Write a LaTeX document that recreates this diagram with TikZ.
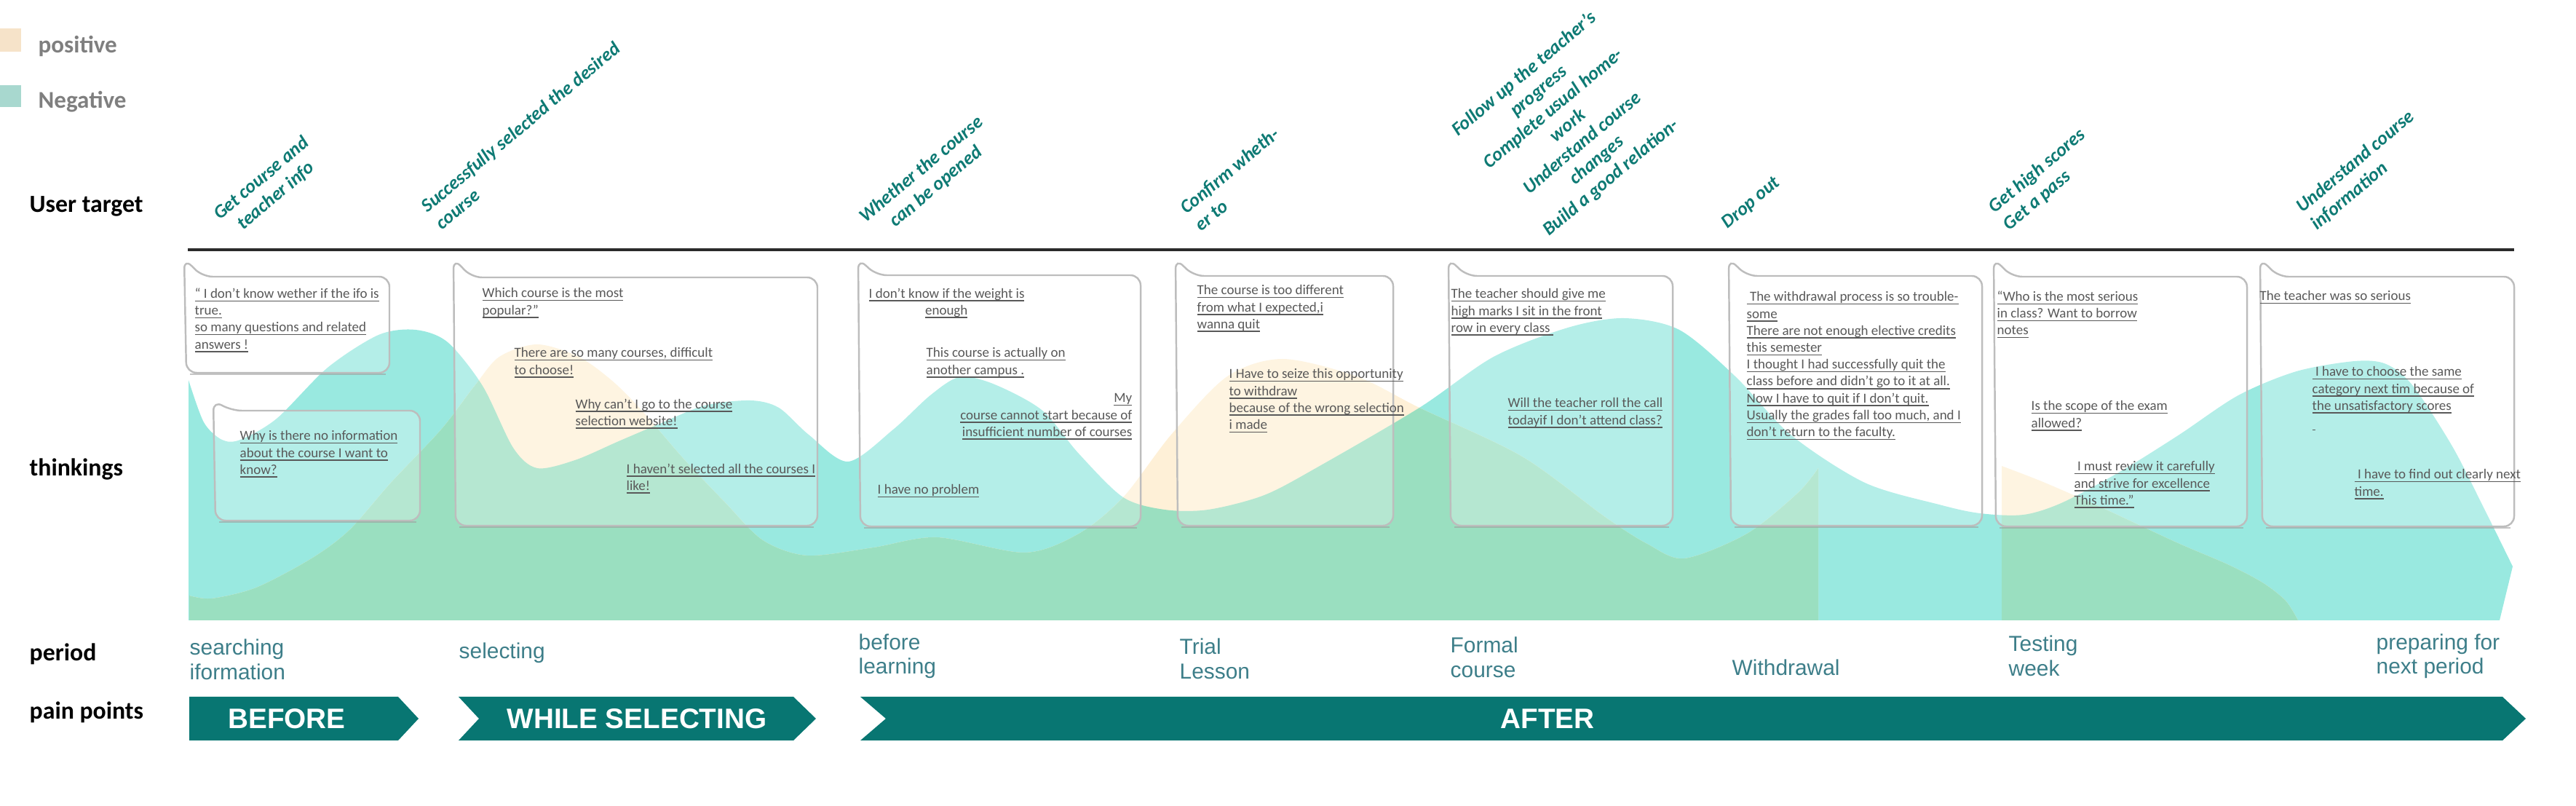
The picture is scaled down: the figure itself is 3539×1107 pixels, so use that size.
\documentclass[tikz,border=0pt]{standalone}
\usepackage{fontspec}
\setmainfont{Carlito}
\newfontfamily\arialfont{Liberation Sans}
\definecolor{negc}{HTML}{99E9E0}
\definecolor{posc}{HTML}{FEF0D7}
\definecolor{mixc}{HTML}{9ADFC0}
\definecolor{poslegend}{HTML}{F6E3C9}
\definecolor{neglegend}{HTML}{A8D8CF}
\definecolor{legc}{HTML}{7F7F7F}
\definecolor{goalc}{HTML}{0E7A74}
\definecolor{txtc}{HTML}{595959}
\definecolor{bordc}{HTML}{BDBDBD}
\definecolor{shadec}{HTML}{9E9E9E}
\definecolor{stagec}{HTML}{3D7E89}
\definecolor{phasec}{HTML}{087672}
\definecolor{linec}{HTML}{2B2B2B}
\newcommand{\uln}[1]{\setbox0\hbox{#1}\rlap{\raisebox{-1.3pt}{\rule{\wd0}{0.4pt}}}\box0}
\newcommand{\callout}[5]{\draw[bubble] (#1-3,#5) -- (#1+22,#2) -- (#3,#2) -- (#3,#4) -- (#1,#4) -- cycle;
  \draw[bubbleshade] (#1+5,#4+2) -- (#3-5,#4+2);}
\newcommand{\negwave}{(259,852) -- plot[smooth] coordinates {(259,522) (280,580) (305,604) (330,604) (380,575) (450,505) (520,460) (571,453) (615,470) (663,530) (705,615) (738,643) (790,632) (850,606) (904,583) (968,557) (1031,550) (1070,560) (1111,597) (1165,634) (1227,590) (1278,543) (1318,518) (1364,527) (1431,563) (1482,623) (1543,683) (1600,700) (1660,700) (1737,680) (1813,640) (1950,560) (2052,490) (2154,450) (2231,437) (2307,453) (2384,517) (2460,597) (2562,663) (2664,693) (2720,705) (2780,707) (2834,690) (2914,647) (2994,597) (3075,543) (3155,510) (3235,496) (3278,500) (3315,530) (3369,613) (3412,697) (3452,778)} -- (3434,852) -- cycle}
\newcommand{\poswaveA}{(260,852) -- plot[smooth] coordinates {(260,818) (291,822) (352,807) (428,767) (480,728) (537,663) (606,590) (652,530) (686,490) (738,473) (795,490) (841,523) (881,563) (939,630) (996,690) (1048,742) (1109,763) (1200,752) (1287,738) (1408,759) (1482,733) (1543,683) (1609,597) (1686,517) (1762,493) (1864,517) (1950,560) (2091,627) (2205,710) (2263,747) (2314,767) (2400,733) (2470,677) (2498,643)} -- (2498,852) -- cycle}
\newcommand{\poswaveB}{(2750,852) -- plot[smooth] coordinates {(2750,640) (2807,662) (2887,697) (2990,745) (3060,775) (3108,800) (3140,825) (3157,852)} -- cycle}
\begin{document}
\begin{tikzpicture}[x=0.01cm,y=-0.01cm,
  rowlabel/.style={anchor=west,inner sep=0,font=\fontsize{9.6}{11}\selectfont\bfseries},
  legend/.style={anchor=west,inner sep=0,text=legc,font=\fontsize{9.4}{11}\selectfont\bfseries},
  target/.style={rotate=40,inner sep=0,align=center,text=goalc,font=\fontsize{7.4}{8.8}\selectfont\bfseries\itshape},
  thought/.style={anchor=north west,inner sep=0,align=left,text=txtc,font=\fontsize{5.4}{6.6}\selectfont},
  stage/.style={anchor=west,inner sep=0,align=left,text=stagec,font=\arialfont\fontsize{8.5}{9.5}\selectfont},
  bubble/.style={draw=bordc,line width=0.7pt,rounded corners=4,fill=white,fill opacity=0.27},
  bubbleshade/.style={draw=shadec,line width=0.5pt,opacity=0.6},
  phase/.style={inner sep=0,text=white,font=\arialfont\bfseries\fontsize{11}{13}\selectfont}]
\useasboundingbox (0,0) rectangle (3539,1107);
% legend
\fill[poslegend] (0,39) rectangle (29,71);
\fill[neglegend] (0,117) rectangle (29,147);
\node[legend] (pos) at (52,63) {positive};
\node[legend] (neg) at (52,140) {Negative};
% emotion waves
\fill[negc] \negwave;
\fill[posc] \poswaveA;
\fill[posc] \poswaveB;
\begin{scope}
\clip \negwave;
\fill[mixc] \poswaveA;
\fill[mixc] \poswaveB;
\end{scope}
% bubbles
\callout{256}{380}{535}{512}{355}
\callout{296}{564}{577}{715}{550}
\callout{626}{381}{1123}{722}{355}
\callout{1182}{378}{1567}{723}{355}
\callout{1618}{379}{1914}{722}{355}
\callout{1993}{379}{2298}{722}{355}
\callout{2378}{379}{2723}{722}{355}
\callout{2742}{380}{3087}{723}{355}
\callout{3108}{380}{3454}{723}{355}
% thinkings
\node[thought] (t1) at (267,395) {\uln{“ I don’t know wether if the ifo is}\\\uln{true.}\\\uln{so many questions and  related}\\\uln{answers !}};
\node[thought] (t2) at (329,591) {\uln{Why is there no information}\\\uln{about the course I want to}\\\uln{know?}};
\node[thought] (t3a) at (662,395) {\uln{Which course is the most}\\\uln{popular?”}};
\node[thought] (t3b) at (706,477) {\uln{There are so many courses, difficult}\\\uln{to choose!}};
\node[thought] (t3c) at (790,547) {\uln{Why can't I go to the course}\\\uln{selection website!}};
\node[thought] (t3d) at (860,636) {\uln{I haven’t selected all the courses I}\\\uln{like!}};
\node[thought] (t4a) at (1193,395) {\uln{I don’t know if the weight is}\\\hspace*{22pt}\uln{enough}};
\node[thought] (t4b) at (1272,477) {\uln{This course is actually on}\\\uln{another campus .}};
\node[thought,anchor=north east,align=right] (t4c) at (1556,540) {\uln{My}\\\uln{course cannot start  because of}\\\uln{insufficient number of courses}};
\node[thought] (t4d) at (1205,665) {\uln{I have no problem}};
\node[thought] (t5a) at (1644,391) {\uln{The course is too different}\\\uln{from what I expected,i}\\\uln{wanna quit}};
\node[thought] (t5b) at (1688,506) {\uln{I Have to seize this opportunity}\\\uln{to withdraw}\\\uln{because of the wrong selection}\\\uln{i made}};
\node[thought] (t6a) at (1993,396) {\uln{The teacher should give me}\\\uln{high marks I sit in the front}\\\uln{row in every class\ }};
\node[thought] (t6b) at (2071,546) {\uln{Will the teacher roll the call}\\\uln{todayif I don’t attend class?}};
\node[thought] (t7) at (2399,400) {\uln{\ The withdrawal process is so trouble-}\\\uln{some}\\\uln{There are not enough elective credits}\\\uln{this semester}\\\uln{I thought I had successfully quit the}\\\uln{class before and didn't go to it at all.}\\\uln{Now I have to quit if I don't quit.}\\\uln{Usually the grades fall too much, and I}\\\uln{don’t return to the faculty.}};
\node[thought] (t8a) at (2743,399) {\uln{“Who is the most serious}\\\uln{in class? Want to borrow}\\\uln{notes}};
\node[thought] (t8b) at (2790,550) {\uln{Is the scope of the exam}\\\uln{allowed?}};
\node[thought] (t8c) at (2849,633) {\uln{\ I must review it carefully}\\\uln{and strive for excellence}\\\uln{This time.”}};
\node[thought] (t9a) at (3104,399) {\uln{The teacher was so serious}};
\node[thought] (t9b) at (3176,503) {\uln{\ I have to choose the same}\\\uln{category next tim because of}\\\uln{the unsatisfactory scores}\\\uln{\ }};
\node[thought] (t9c) at (3234,644) {\uln{\ I have to find out clearly next}\\\uln{time.}};
% user targets
\draw[linec,line width=0.9pt] (258,343) -- (3454,343);
\node[target] (g1) at (369,257) {Get course and\\teacher info};
\node[target,align=left] (g2) at (725,186) {Successfully selected the desired\\course};
\node[target] (g3) at (1276,245) {Whether the course\\can be opened};
\node[target,align=left] (g4) at (1699,246) {Confirm wheth-\\er to};
\node[target] (g5) at (2154,173) {Follow up the teacher's\\progress\\Complete usual home-\\work\\Understand course\\changes\\Build a good relation-};
\node[target] (g6) at (2406,279) {Drop out};
\node[target,align=left] (g7) at (2809,247) {Get high scores\\Get a pass};
\node[target,align=left] (g8) at (3246,234) {Understand course\\information};
% row labels
\node[rowlabel] (ut) at (40,283) {User target};
\node[rowlabel] (th) at (40,645) {thinkings};
\node[rowlabel] (pe) at (40,898) {period};
\node[rowlabel] (pp) at (40,978) {pain points};
% periods
\node[stage] (s1) at (260,906) {searching\\iformation};
\node[stage] (s2) at (630,897) {selecting};
\node[stage] (s3) at (1179,901) {before\\learning};
\node[stage] (s4) at (1620,905) {Trial\\Lesson};
\node[stage] (s5) at (1992,903) {Formal\\course};
\node[stage] (s6) at (2379,917) {Withdrawal};
\node[stage] (s7) at (2759,901) {Testing\\week};
\node[stage] (s8) at (3264,901) {preparing for\\next period};
% pain points
\fill[phasec] (260,957) -- (547,957) -- (575,987) -- (547,1017) -- (260,1017) -- cycle;
\fill[phasec] (630,957) -- (1090,957) -- (1121,987) -- (1090,1017) -- (630,1017) -- (658,987) -- cycle;
\fill[phasec] (1182,957) -- (3438,957) -- (3470,987) -- (3438,1017) -- (1182,1017) -- (1217,987) -- cycle;
\node[phase] (before) at (394,987) {BEFORE};
\node[phase] (while) at (875,987) {WHILE SELECTING};
\node[phase] (after) at (2126,987) {AFTER};
\end{tikzpicture}
\end{document}
